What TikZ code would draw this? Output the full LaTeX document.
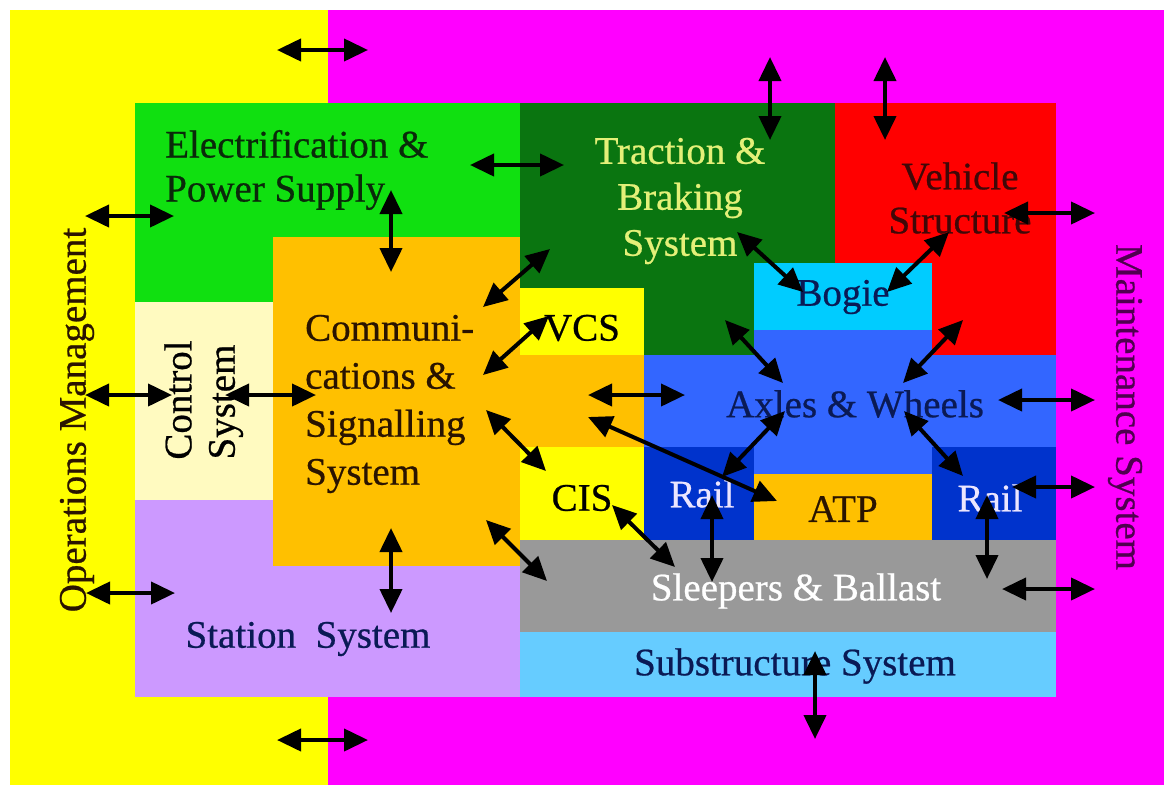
\documentclass[tikz,border=0pt]{standalone}
\usepackage{fontspec}
\setmainfont{Liberation Serif}[FakeBold=0.6]
\usetikzlibrary{arrows.meta}
\definecolor{opsyellow}{HTML}{FFFF00}
\definecolor{mntmagenta}{HTML}{FF00FF}
\definecolor{elecgreen}{HTML}{10E010}
\definecolor{commorange}{HTML}{FFC000}
\definecolor{stationlilac}{HTML}{CC99FF}
\definecolor{ctrlcream}{HTML}{FFFAC0}
\definecolor{tracgreen}{HTML}{0A7510}
\definecolor{vehred}{HTML}{FF0000}
\definecolor{bogiecyan}{HTML}{00CCFF}
\definecolor{axleblue}{HTML}{3366FF}
\definecolor{raildark}{HTML}{0033CC}
\definecolor{sleepgray}{HTML}{999999}
\definecolor{subblue}{HTML}{66CCFF}
\definecolor{txtgreen}{HTML}{0A2A0A}
\definecolor{txtyellow}{HTML}{E4F078}
\definecolor{txtmaroon}{HTML}{400808}
\definecolor{txtnavy}{HTML}{0A1A55}
\definecolor{txtbrown}{HTML}{2A1400}
\definecolor{txtpurple}{HTML}{500050}
\definecolor{txtrail}{HTML}{ECE6FF}
\begin{document}
\begin{tikzpicture}[x=1pt,y=-1pt,
  lbl/.style={font=\fontsize{39}{46}\selectfont, inner sep=0pt, align=center},
  link/.style={line width=4pt,
    {Triangle[length=24pt,width=22pt]}-{Triangle[length=24pt,width=22pt]}},
]
% page and the two outer systems
\fill[white] (0,0) rectangle (1164,785);
\fill[opsyellow] (10,10) rectangle (328,785);
\fill[mntmagenta] (328,10) rectangle (1164,785);

% infrastructure side
\fill[elecgreen] (135,103) rectangle (520,302);
\fill[ctrlcream] (135,302) rectangle (273,500);
\fill[stationlilac] (135,500) rectangle (520,697);
\fill[commorange] (273,237) rectangle (520,566);
\fill[commorange] (520,355) rectangle (644,447);

% rolling stock side
\fill[tracgreen] (520,103) rectangle (835,355);
\fill[vehred] (835,103) rectangle (1056,355);
\fill[opsyellow] (520,288) rectangle (644,355);
\fill[bogiecyan] (754,263) rectangle (932,330);
\fill[axleblue] (644,355) rectangle (1056,447);
\fill[axleblue] (754,330) rectangle (932,355);
\fill[axleblue] (754,447) rectangle (932,474);

% track level
\fill[opsyellow] (520,447) rectangle (644,540);
\fill[raildark] (644,447) rectangle (754,540);
\fill[commorange] (754,474) rectangle (932,540);
\fill[raildark] (932,447) rectangle (1056,540);
\fill[sleepgray] (520,540) rectangle (1056,632);
\fill[subblue] (520,632) rectangle (1056,697);

% labels
\node[lbl, text=txtgreen, align=left, anchor=west,
  font=\fontsize{39}{44}\selectfont] (elec) at (165,170)
  {Electrification \&\\Power Supply};
\node[lbl, text=txtyellow] (trac) at (680,201) {Traction \&\\Braking\\System};
\node[lbl, text=txtmaroon, font=\fontsize{39}{44}\selectfont] (veh) at (960,198)
  {Vehicle\\Structure};
\node[lbl, text=txtnavy] (bogie) at (843,297) {Bogie};
\node[lbl, text=txtbrown, align=left, anchor=west,
  font=\fontsize{39}{48}\selectfont] (comm) at (305,404)
  {Communi-\\cations \&\\Signalling\\System};
\node[lbl, text=black] (vcs) at (582,328) {VCS};
\node[lbl, text=txtnavy] (axle) at (855,404) {Axles \& Wheels};
\node[lbl, text=black] (cis) at (582,498) {CIS};
\node[lbl, text=txtrail] (railL) at (702,494) {Rail};
\node[lbl, text=txtbrown] (atp) at (843,509) {ATP};
\node[lbl, text=txtrail] (railR) at (990,498) {Rail};
\node[lbl, text=white] (sleep) at (796,591) {Sleepers \& Ballast};
\node[lbl, text=txtnavy] (subs) at (795,666) {Substructure System};
\node[lbl, text=txtnavy] (station) at (308,639) {Station\ \ System};
\node[lbl, text=black, rotate=90] (ctrl) at (178,400) {Control};
\node[lbl, text=black, rotate=90] (ctrlsys) at (226,402) {System};
\node[lbl, text=txtbrown, rotate=90] (ops) at (77,420) {Operations Management};
\node[lbl, text=txtpurple, rotate=-90] (mnt) at (1125,407) {Maintenance System};

% interface end points
\coordinate (opsTopA) at (277,50);   \coordinate (opsTopB) at (368,50);
\coordinate (opsBotA) at (277,740);  \coordinate (opsBotB) at (368,740);
\coordinate (tracOutA) at (770,57);  \coordinate (tracOutB) at (770,140);
\coordinate (vehOutA) at (885,57);   \coordinate (vehOutB) at (885,140);
\coordinate (elecTracA) at (470,165); \coordinate (elecTracB) at (564,165);
\coordinate (elecCommA) at (391,190); \coordinate (elecCommB) at (391,272);
\coordinate (opsElecA) at (85,216);  \coordinate (opsElecB) at (174,216);
\coordinate (commTracA) at (483,307); \coordinate (commTracB) at (550,249);
\coordinate (commVcsA) at (483,375);  \coordinate (commVcsB) at (549,316);
\coordinate (opsCtrlA) at (85,395);  \coordinate (opsCtrlB) at (172,395);
\coordinate (ctrlCommA) at (225,395); \coordinate (ctrlCommB) at (316,395);
\coordinate (opsStatA) at (86,593);  \coordinate (opsStatB) at (175,593);
\coordinate (commStatA) at (391,528); \coordinate (commStatB) at (391,613);
\coordinate (commCisA) at (486,410);  \coordinate (commCisB) at (546,471);
\coordinate (commSlpA) at (486,520);  \coordinate (commSlpB) at (547,581);
\coordinate (commAxA) at (588,395);   \coordinate (commAxB) at (685,395);
\coordinate (commAtpA) at (588,417);  \coordinate (commAtpB) at (777,501);
\coordinate (tracBogA) at (737,232);  \coordinate (tracBogB) at (803,292);
\coordinate (vehBogA) at (949,232);   \coordinate (vehBogB) at (887,292);
\coordinate (vehMntA) at (1004,213);  \coordinate (vehMntB) at (1095,213);
\coordinate (tracAxA) at (725,320);   \coordinate (tracAxB) at (783,383);
\coordinate (vehAxA) at (963,320);    \coordinate (vehAxB) at (903,383);
\coordinate (axMntA) at (998,400);    \coordinate (axMntB) at (1095,400);
\coordinate (axRailLA) at (785,411);  \coordinate (axRailLB) at (722,477);
\coordinate (axRailRA) at (904,411);  \coordinate (axRailRB) at (963,476);
\coordinate (railMntA) at (1012,487); \coordinate (railMntB) at (1095,487);
\coordinate (railSlpLA) at (712,495); \coordinate (railSlpLB) at (712,582);
\coordinate (cisSlpA) at (612,505);   \coordinate (cisSlpB) at (675,567);
\coordinate (railSlpRA) at (987,495); \coordinate (railSlpRB) at (987,579);
\coordinate (slpMntA) at (1002,589);  \coordinate (slpMntB) at (1095,589);
\coordinate (subOutA) at (815,651);   \coordinate (subOutB) at (815,739);

% interfaces
\foreach \p in {opsTop,opsBot,tracOut,vehOut,elecTrac,elecComm,opsElec,
  commTrac,commVcs,opsCtrl,ctrlComm,opsStat,commStat,commCis,commSlp,
  commAx,commAtp,tracBog,vehBog,vehMnt,tracAx,vehAx,axMnt,axRailL,axRailR,
  railMnt,railSlpL,cisSlp,railSlpR,slpMnt,subOut}
  \draw[link] (\p A) -- (\p B);
\end{tikzpicture}
\end{document}
